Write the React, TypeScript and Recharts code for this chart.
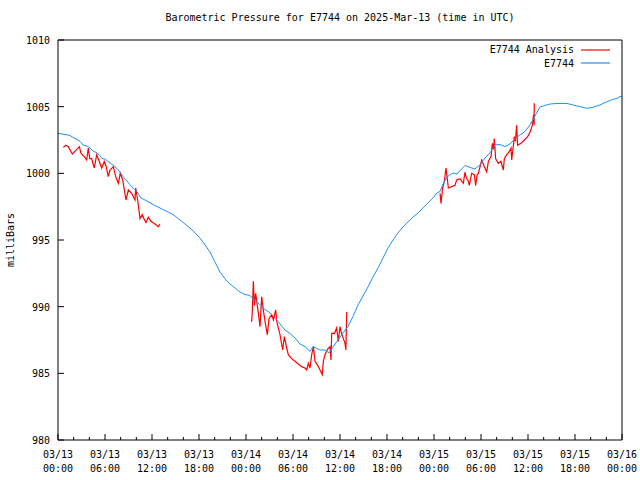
import React from "react";
import { LineChart, Line, XAxis, YAxis, Legend } from "recharts";

// hours since 2025-03-13 00:00 UTC
const stationHours = [
  0, 0.51, 1.02, 1.53, 1.91, 2.43, 2.81, 3.19, 3.83, 4.09, 4.47, 4.98, 5.36, 5.62, 6.0, 6.38, 7.02, 7.53, 7.91, 8.3,
  8.81, 9.19, 9.57, 10.09, 10.34, 10.6, 11.11, 11.49, 12.13, 12.64, 13.02, 13.66, 14.3, 14.94, 15.57, 16.21, 16.85,
  17.49, 18.13, 18.77, 19.4, 20.04, 20.68, 21.32, 21.96, 22.6, 23.23, 23.87, 24.51, 24.89, 25.4, 25.79, 26.43, 27.06,
  27.7, 28.09, 28.6, 28.98, 29.62, 30.26, 30.89, 31.53, 32.17, 32.55, 33.06, 33.45, 34.09, 34.6, 35.11, 35.74, 36.38,
  37.02, 37.66, 38.3, 38.94, 39.57, 40.21, 40.85, 41.49, 42.13, 42.77, 43.4, 44.04, 44.68, 45.32, 45.96, 46.6, 47.23,
  47.87, 48.38, 48.77, 49.15, 49.66, 50.04, 50.43, 50.94, 51.57, 51.96, 52.6, 53.23, 53.87, 54.51, 55.15, 55.79,
  56.43, 57.06, 57.7, 58.34, 58.98, 59.62, 60.26, 60.89, 61.53, 62.17, 62.81, 63.7, 64.98, 66.26, 67.53, 68.3, 69.19,
  70.09, 70.85, 71.36, 71.74, 72.0,
];
const stationValues = [
  1003.0, 1002.95, 1002.9, 1002.84, 1002.69, 1002.54, 1002.39, 1002.13, 1002.01, 1001.9, 1001.68, 1001.53, 1001.34,
  1001.11, 1001.08, 1000.89, 1000.63, 1000.36, 1000.1, 999.76, 999.43, 999.16, 998.9, 998.64, 998.38, 998.15, 998.0,
  997.89, 997.66, 997.51, 997.4, 997.21, 997.03, 996.8, 996.5, 996.2, 995.9, 995.53, 995.15, 994.63, 994.1, 993.35,
  992.6, 992.08, 991.7, 991.4, 991.1, 990.91, 990.84, 990.58, 990.39, 990.13, 989.79, 989.53, 989.15, 988.89, 988.51,
  988.25, 987.99, 987.65, 987.2, 987.01, 986.64, 987.01, 986.86, 986.75, 986.75, 986.53, 986.98, 987.5, 988.03,
  988.51, 989.26, 990.13, 990.8, 991.48, 992.23, 992.9, 993.65, 994.4, 995.0, 995.53, 995.98, 996.35, 996.73, 997.03,
  997.4, 997.78, 998.15, 998.53, 998.64, 999.2, 999.73, 999.88, 1000.03, 999.95, 1000.36, 1000.59, 1000.44, 1000.33,
  1000.63, 1001.15, 1001.53, 1002.13, 1002.16, 1002.01, 1002.2, 1002.58, 1002.88, 1003.14, 1003.63, 1004.3, 1004.98,
  1005.09, 1005.2, 1005.24, 1005.24, 1005.05, 1004.88, 1004.95, 1005.13, 1005.37, 1005.55, 1005.61, 1005.75, 1005.8,
];

// analysis comes in three runs; null marks a gap
const analysisHours = [
  0.68, 1.02, 1.31, 1.83, 2.26, 2.72, 2.94, 3.36, 3.66, 3.87, 4.05, 4.3, 4.63, 4.94, 5.14, 5.58, 5.91, 6.13, 6.42, 6.64,
  7.06, 7.37, 7.7, 7.95, 8.26, 8.68, 8.98, 9.4, 9.83, 9.92, 10.17, 10.47, 10.76, 10.98, 11.23, 11.53, 11.87, 12.38,
  12.8, 13.02,
  18,
  24.72, 24.8, 24.94, 25.07, 25.24, 25.37, 25.58, 25.79, 26.0, 26.2, 26.43, 26.72, 26.94, 27.28, 27.5, 27.79, 27.92,
  28.34, 28.68, 28.89, 29.2, 29.4, 29.83, 30.26, 30.68, 31.1, 31.53, 31.75, 31.96, 32.17, 32.39, 32.6, 32.81, 33.15,
  33.45, 33.74, 33.87, 34.09, 34.4, 34.72, 34.85, 34.94, 35.3, 35.57, 35.79, 36.0, 36.2, 36.43, 36.64, 36.75, 36.86,
  42,
  48.77, 48.9, 49.1, 49.32, 49.53, 49.7, 49.83, 50.26, 50.68, 50.89, 51.3, 51.74, 51.96, 52.1, 52.38, 52.51, 52.81,
  53.15, 53.32, 53.5, 53.66, 54.09, 54.43, 54.73, 54.94, 55.28, 55.45, 55.6, 55.7, 55.87, 56.2, 56.55, 56.85, 56.98,
  57.28, 57.58, 57.83, 57.92, 58.26, 58.4, 58.55, 58.68, 59.1, 59.53, 59.96, 60.26, 60.55, 60.72, 60.78, 60.8,
];
const analysisValues = [
  1001.95, 1002.1, 1002.0, 1001.45, 1001.7, 1002.0, 1001.5, 1001.25, 1001.0, 1001.9, 1001.1, 1001.1, 1000.4, 1001.4,
  1001.1, 1000.4, 1000.9, 1000.55, 999.75, 1000.25, 1000.5, 999.75, 999.25, 1000.0, 999.5, 998.0, 998.75, 998.5,
  998.0, 998.9, 998.0, 996.6, 996.9, 996.6, 996.3, 996.7, 996.4, 996.2, 996.0, 996.2,
  null,
  988.87, 989.6, 991.9, 990.1, 991.0, 990.4, 989.5, 988.5, 990.75, 989.8, 988.9, 987.9, 989.1, 989.4, 989.0, 989.75,
  988.9, 987.9, 986.75, 987.75, 986.9, 986.4, 986.1, 985.9, 985.7, 985.5, 985.4, 985.25, 985.75, 985.4, 986.4, 987.0,
  985.9, 985.6, 985.25, 984.9, 985.9, 986.4, 986.8, 987.0, 986.0, 988.0, 988.0, 988.4, 987.4, 988.5, 988.0, 987.6,
  987.25, 986.75, 989.6,
  null,
  998.5, 997.75, 998.9, 999.4, 1000.4, 999.6, 998.9, 999.0, 999.1, 999.5, 999.6, 999.25, 1000.1, 999.7, 999.4, 999.1,
  1000.0, 999.9, 999.1, 999.9, 1000.0, 1001.0, 1000.5, 1000.1, 1000.9, 1001.25, 1002.25, 1001.8, 1002.6, 1001.1,
  1000.75, 1000.9, 1000.25, 1001.1, 1001.4, 1001.6, 1001.9, 1001.0, 1002.75, 1002.4, 1003.6, 1002.1, 1002.25, 1002.5,
  1002.75, 1003.1, 1003.6, 1004.4, 1003.6, 1005.25,
];

const hourTicks = [0, 2, 4, 6, 8, 10, 12, 14, 16, 18, 20, 22, 24, 26, 28, 30, 32, 34, 36, 38, 40, 42, 44, 46, 48, 50, 52, 54, 56, 58, 60, 62, 64, 66, 68, 70, 72];
const pressureTicks = [980, 985, 990, 995, 1000, 1005, 1010];

const stationData = stationHours.map((t, i) => ({ t, p: stationValues[i] }));
const analysisData = analysisHours.map((t, i) => ({ t, p: analysisValues[i] }));

const FONT = "'DejaVu Sans Mono', monospace";
const RED = "#ff0000";
const BLUE = "#1e90ff";

function tickLabel(h: number) {
  const day = 13 + Math.floor(h / 24);
  const hr = h % 24;
  return ["03/" + day, String(hr).padStart(2, "0") + ":00"];
}

function BottomTick(props: any) {
  const { x, y, payload } = props;
  const major = payload.value % 6 === 0;
  const [d, t] = tickLabel(payload.value);
  return (
    <g>
      <line x1={x} x2={x} y1={y} y2={y - (major ? 6 : 3)} stroke="#000" />
      {major && (
        <text x={x} y={y} textAnchor="middle" fontSize={10} fontFamily={FONT} fill="#000">
          <tspan x={x} dy={18}>{d}</tspan>
          <tspan x={x} dy={14}>{t}</tspan>
        </text>
      )}
    </g>
  );
}

function TopTick(props: any) {
  const { x, y, payload } = props;
  const major = payload.value % 6 === 0;
  return <line x1={x} x2={x} y1={y} y2={y + (major ? 6 : 3)} stroke="#000" />;
}

function LeftTick(props: any) {
  const { x, y, payload } = props;
  return (
    <g>
      <line x1={x} x2={x + 6} y1={y} y2={y} stroke="#000" />
      <text x={x - 8} y={y} dy={4} textAnchor="end" fontSize={10} fontFamily={FONT} fill="#000">
        {payload.value}
      </text>
    </g>
  );
}

function RightTick(props: any) {
  const { x, y } = props;
  return <line x1={x} x2={x - 6} y1={y} y2={y} stroke="#000" />;
}

function renderLegend() {
  const rows = [
    { name: "E7744 Analysis", color: RED },
    { name: "E7744", color: BLUE },
  ];
  return (
    <div style={{ fontFamily: FONT, fontSize: 10, lineHeight: "13.5px", color: "#000" }}>
      {rows.map((r) => (
        <div key={r.name} style={{ display: "flex", justifyContent: "flex-end", alignItems: "center", height: 13.5 }}>
          <span>{r.name}</span>
          <svg width={29} height={4} style={{ marginLeft: 7, display: "block" }}>
            <line x1={0} x2={29} y1={2} y2={2} stroke={r.color} strokeWidth={1.2} />
          </svg>
        </div>
      ))}
    </div>
  );
}

export default function App() {
  return (
    <div style={{ position: "absolute", left: 0, top: 0, width: 640, height: 480, background: "#fff", fontFamily: FONT }}>
      <div style={{ position: "absolute", left: 58, top: 12, width: 564, textAlign: "center", fontSize: 10, color: "#000" }}>
        Barometric Pressure for E7744 on 2025-Mar-13 (time in UTC)
      </div>
      <div
        style={{
          position: "absolute",
          left: 10,
          top: 240,
          fontSize: 10,
          color: "#000",
          transform: "translate(-50%, -50%) rotate(-90deg)",
          whiteSpace: "nowrap",
        }}
      >
        milliBars
      </div>
      <LineChart width={640} height={480} margin={{ top: 0, right: 0, bottom: 0, left: 0 }}>
        <XAxis
          dataKey="t"
          type="number"
          domain={[0, 72]}
          ticks={hourTicks}
          interval={0}
          height={40}
          tickSize={0}
          tickMargin={0}
          tickLine={false}
          axisLine={{ stroke: "#000" }}
          tick={<BottomTick />}
          allowDataOverflow
        />
        <XAxis
          xAxisId="top"
          orientation="top"
          dataKey="t"
          type="number"
          domain={[0, 72]}
          ticks={hourTicks}
          interval={0}
          height={40}
          tickSize={0}
          tickMargin={0}
          tickLine={false}
          axisLine={{ stroke: "#000" }}
          tick={<TopTick />}
        />
        <YAxis
          type="number"
          domain={[980, 1010]}
          ticks={pressureTicks}
          interval={0}
          width={58}
          tickSize={0}
          tickMargin={0}
          tickLine={false}
          axisLine={{ stroke: "#000" }}
          tick={<LeftTick />}
          allowDataOverflow
        />
        <YAxis
          yAxisId="right"
          orientation="right"
          type="number"
          domain={[980, 1010]}
          ticks={pressureTicks}
          interval={0}
          width={18}
          tickSize={0}
          tickMargin={0}
          tickLine={false}
          axisLine={{ stroke: "#000" }}
          tick={<RightTick />}
        />
        <Legend
          verticalAlign="top"
          align="right"
          height={0}
          content={renderLegend}
          wrapperStyle={{ top: 43, right: 30, left: "auto", width: "auto", height: 0, overflow: "visible" }}
        />
        <Line
          data={analysisData}
          dataKey="p"
          name="E7744 Analysis"
          stroke={RED}
          strokeWidth={1.2}
          dot={false}
          connectNulls={false}
          isAnimationActive={false}
        />
        <Line
          data={stationData}
          dataKey="p"
          name="E7744"
          stroke={BLUE}
          strokeWidth={1}
          dot={false}
          isAnimationActive={false}
        />
      </LineChart>
    </div>
  );
}
